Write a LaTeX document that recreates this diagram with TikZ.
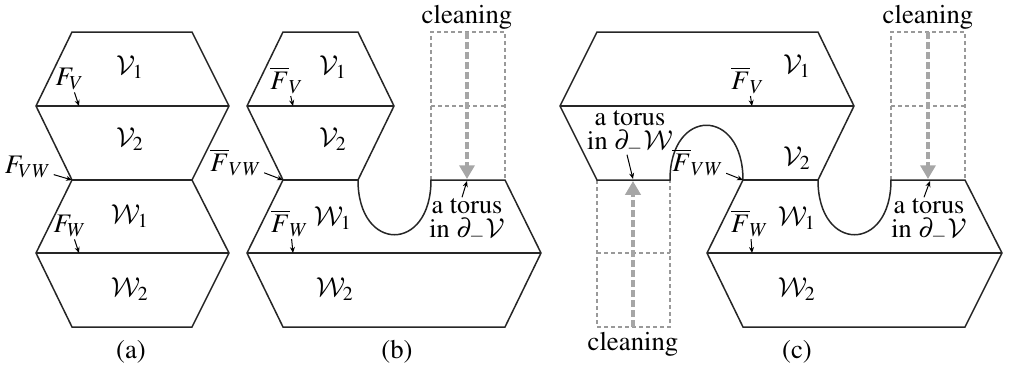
\documentclass[tikz,border=0pt]{standalone}
\usepackage[T1]{fontenc}
\usepackage{mathptmx}
\DeclareMathAlphabet{\mathcal}{OMS}{cmsy}{m}{n}
\usepackage{tikz}
\usetikzlibrary{arrows.meta}

\begin{document}
\begin{tikzpicture}[
    x=0.4pt,
    y=-0.4pt,
    every node/.style={
        font=\fontsize{10.7pt}{12pt}\selectfont
    },
    body/.style={
        draw=black!85,
        line width=0.6pt,
        line join=miter
    },
    guide/.style={
        draw=black!40,
        line width=0.45pt,
        dash pattern=on 1.6pt off 1.2pt
    },
    clean/.style={
        -{Triangle[length=5.5pt,width=6pt]},
        draw=black!35,
        line width=1.4pt,
        dash pattern=on 2.8pt off 1.2pt
    },
    pointer/.style={
        -{Stealth[length=2.4pt,width=2pt]},
        line width=0.4pt
    },
    label/.style={
        inner sep=0.8pt
    },
    torus/.style={
        align=center,
        inner sep=0.5pt,
        font=\fontsize{10.5pt}{9.4pt}\selectfont
    }
]

\useasboundingbox (0,0) rectangle (1009,368);

% ===========================================================
% (a): the two handlebody decompositions stacked
% ===========================================================

\draw[body] (72,32) -- (192,32) -- (229,106) -- (192,180)
    -- (229,253) -- (192,327) -- (72,327) -- (36,253)
    -- (72,180) -- (36,106) -- cycle;
\draw[body] (36,106) -- (229,106);
\draw[body] (72,180) -- (192,180);
\draw[body] (36,253) -- (229,253);

\coordinate (afv) at (79,106);
\coordinate (afvw) at (72,180);
\coordinate (afw) at (79,253);

\node (av1) at (130,67) {$\mathcal{V}_1$};
\node (av2) at (130,139) {$\mathcal{V}_2$};
\node (aw1) at (130,216) {$\mathcal{W}_1$};
\node (aw2) at (130,289) {$\mathcal{W}_2$};

\node[label] (afvlab) at (70,79) {$F_V$};
\node[label] (afvwlab) at (28,167) {$F_{VW}$};
\node[label] (afwlab) at (70,226) {$F_W$};

\draw[pointer] (afvlab) -- (afv);
\draw[pointer] (afvwlab) -- (afvw);
\draw[pointer] (afwlab) -- (afw);

\node (capa) at (131,352) {(a)};

% ===========================================================
% (b): cleaning a torus in the lower boundary of V
% ===========================================================

\draw[guide] (431,180) -- (431,32) -- (505,32) -- (505,180);
\draw[guide] (431,106) -- (505,106);
\coordinate (bcleantop) at (467,32);
\coordinate (bcleanend) at (467,179);
\draw[clean] (bcleantop) -- (bcleanend);
\node (bclean) at (467,17) {cleaning};

\draw[body] (283,32) -- (358,32) -- (394,106) -- (358,180)
    .. controls (358,253) and (431,253) .. (431,180)
    -- (505,180) -- (541,253) -- (505,327) -- (283,327)
    -- (247,253) -- (283,180) -- (247,106) -- cycle;
\draw[body] (247,106) -- (394,106);
\draw[body] (283,180) -- (358,180);
\draw[body] (247,253) -- (541,253);

\coordinate (bfv) at (293,106);
\coordinate (bfvw) at (283,180);
\coordinate (bfw) at (293,253);
\coordinate (btor) at (467,181);

\node (bv1) at (333,67) {$\mathcal{V}_1$};
\node (bv2) at (333,139) {$\mathcal{V}_2$};
\node (bw1) at (333,218) {$\mathcal{W}_1$};
\node (bw2) at (335,289) {$\mathcal{W}_2$};

\node[label] (bfvlab) at (287,80) {$\overline{F}_V$};
\node[label] (bfvwlab) at (236,162) {$\overline{F}_{VW}$};
\node[label] (bfwlab) at (290,223) {$\overline{F}_W$};
\node[torus] (btorlab) at (467,221) {a torus\\in $\partial_-\mathcal{V}$};

\draw[pointer] (bfvlab) -- (bfv);
\draw[pointer] (bfvwlab) -- (bfvw);
\draw[pointer] (bfwlab) -- (bfw);
\draw[pointer] (btorlab.north) ++(-5,0) -- (btor);

\node (capb) at (397,352) {(b)};

% ===========================================================
% (c): cleaning tori on both sides
% ===========================================================

\draw[guide] (891,180) -- (891,32) -- (965,32) -- (965,180);
\draw[guide] (891,106) -- (965,106);
\coordinate (crcleantop) at (928,32);
\coordinate (crcleanend) at (928,179);
\draw[clean] (crcleantop) -- (crcleanend);
\node (crclean) at (928,17) {cleaning};

\draw[guide] (597,180) -- (597,327) -- (670,327) -- (670,180);
\draw[guide] (597,253) -- (670,253);
\coordinate (clcleanbot) at (633,327);
\coordinate (clcleanend) at (633,181);
\draw[clean] (clcleanbot) -- (clcleanend);
\node (clclean) at (633,344) {cleaning};

\draw[body] (597,32) -- (818,32) -- (854,106) -- (818,180)
    .. controls (818,253) and (891,253) .. (891,180)
    -- (965,180) -- (1002,253) -- (965,327) -- (743,327)
    -- (707,253) -- (743,180)
    .. controls (743,107) and (670,107) .. (670,180)
    -- (597,180) -- (560,106) -- cycle;
\draw[body] (560,106) -- (854,106);
\draw[body] (743,180) -- (818,180);
\draw[body] (707,253) -- (1002,253);

\coordinate (cfv) at (752,106);
\coordinate (cfvw) at (743,180);
\coordinate (cfw) at (752,253);
\coordinate (ctorv) at (930,181);
\coordinate (ctorw) at (633,179);

\node (cv1) at (797,66) {$\mathcal{V}_1$};
\node (cv2) at (797,158) {$\mathcal{V}_2$};
\node (cw1) at (797,218) {$\mathcal{W}_1$};
\node (cw2) at (797,289) {$\mathcal{W}_2$};

\node[label] (cfvlab) at (748,80) {$\overline{F}_V$};
\node[label] (cfvwlab) at (698,162) {$\overline{F}_{VW}$};
\node[label] (cfwlab) at (750,223) {$\overline{F}_W$};
\node[torus] (ctorvlab) at (929,221) {a torus\\in $\partial_-\mathcal{V}$};
\node[torus] (ctorwlab) at (630,133) {a torus\\in $\partial_-\mathcal{W}$};

\draw[pointer] (cfvlab) -- (cfv);
\draw[pointer] (cfvwlab) -- (cfvw);
\draw[pointer] (cfwlab) -- (cfw);
\draw[pointer] (ctorvlab.north) ++(-5,0) -- (ctorv);
\draw[pointer] (ctorwlab.south) ++(-3,-2) -- (ctorw);

\node (capc) at (797,352) {(c)};

\end{tikzpicture}
\end{document}
